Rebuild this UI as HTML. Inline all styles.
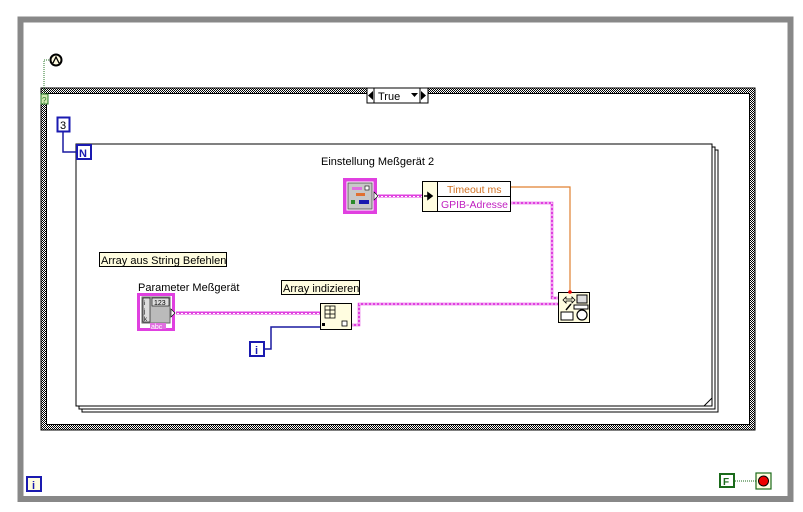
<!DOCTYPE html>
<html><head><meta charset="utf-8"><style>
html,body{margin:0;padding:0;background:#fff;}
svg{display:block;font-family:"Liberation Sans",sans-serif;}
</style></head><body>
<svg width="803" height="512" viewBox="0 0 803 512" xmlns="http://www.w3.org/2000/svg">
<defs>
<pattern id="chk" width="2" height="2" patternUnits="userSpaceOnUse">
<rect width="2" height="2" fill="#fff"/><rect width="1" height="1" fill="#000"/><rect x="1" y="1" width="1" height="1" fill="#000"/>
</pattern>
<pattern id="pinkdots" width="4" height="3" patternUnits="userSpaceOnUse">
<rect width="4" height="3" fill="#e040e0"/><rect x="1" y="1" width="2" height="1" fill="#fff"/>
</pattern>
</defs>
<!-- while loop -->
<path d="M20.5 499 V19.5 H790.5 V499 Z" fill="none" stroke="#888" stroke-width="6"/>
<!-- case structure -->
<rect x="41" y="88" width="714" height="342" fill="url(#chk)"/>
<rect x="41" y="88" width="714" height="342" fill="none" stroke="#000" stroke-width="1"/>
<rect x="46.5" y="93.5" width="703" height="331" fill="#fff" stroke="#000" stroke-width="1"/>
<!-- selector -->
<rect x="367" y="88" width="61" height="15" fill="#fff" stroke="#000"/>
<line x1="374" y1="88" x2="374" y2="103" stroke="#000"/>
<line x1="420" y1="88" x2="420" y2="103" stroke="#000"/>
<path d="M368 95.5 L373 91 L373 100 Z" fill="#000"/>
<path d="M421 91 L426 95.5 L421 100 Z" fill="#000"/>
<path d="M411 93 L418 93 L414.5 97 Z" fill="#000"/>
<text x="378" y="100" font-size="11">True</text>
<!-- selector terminal & error wire -->
<polyline points="44,94 44,60 50,60" fill="none" stroke="#2a7a2a" stroke-dasharray="1,1"/>
<rect x="41" y="94" width="7" height="10" fill="#cfe8b0" stroke="#2a7a2a"/>
<text x="42" y="103" font-size="8" fill="#2a7a2a">?</text>
<circle cx="56" cy="60" r="5.5" fill="#fffbe0" stroke="#000" stroke-width="2"/>
<path d="M53 63 L56 57 L59 63" fill="none" stroke="#000" stroke-width="1.3"/>
<!-- for loop -->
<rect x="82" y="150" width="636" height="262" fill="#fff" stroke="#000"/>
<rect x="79" y="147" width="636" height="262" fill="#fff" stroke="#000"/>
<rect x="76" y="144" width="636" height="262" fill="#fff" stroke="#000"/>
<path d="M704 406 L712 398" stroke="#000" fill="none"/>
<!-- N and 3 -->
<polyline points="63,132 63,152 76,152" fill="none" stroke="#1a1aa0" stroke-width="1.5"/>
<rect x="57.5" y="117.5" width="12" height="14" fill="#fff" stroke="#1a1ab0" stroke-width="2"/>
<text x="60" y="129" font-size="11">3</text>
<rect x="77" y="145" width="14" height="14" fill="#fff" stroke="#1a1ab0" stroke-width="2"/>
<text x="79" y="157" font-size="11" fill="#1a1ab0" font-weight="bold">N</text>
<!-- label -->
<text x="321" y="165" font-size="11">Einstellung Meßgerät 2</text>
<!-- cluster constant -->
<rect x="343" y="178" width="34" height="36" fill="#e040e0"/>
<rect x="346" y="181" width="28" height="30" fill="#fff" stroke="#e040e0"/>
<rect x="348" y="183" width="24" height="26" fill="#c8c8c8" stroke="#666"/>
<rect x="352" y="187" width="10" height="3" fill="#e070e0"/>
<rect x="365" y="186" width="4" height="4" fill="#fff" stroke="#000" stroke-width="0.6"/>
<rect x="356" y="193" width="9" height="3" fill="#e07030"/>
<rect x="351" y="200" width="4" height="4" fill="#2a8a2a"/>
<rect x="359" y="200" width="10" height="4" fill="#1a1ab0"/>
<path d="M374 192 L378 196 L374 200 Z" fill="#fff" stroke="#000" stroke-width="0.6"/>
<!-- unbundle -->
<line x1="378" y1="196" x2="422" y2="196" stroke="url(#pinkdots)" stroke-width="3"/>
<rect x="422.5" y="181.5" width="88" height="30" fill="#fffde0" stroke="#000"/>
<line x1="437.5" y1="181" x2="437.5" y2="212" stroke="#000"/>
<line x1="437" y1="196.5" x2="511" y2="196.5" stroke="#000"/>
<rect x="438" y="182" width="72" height="14" fill="#fff"/>
<rect x="438" y="197" width="72" height="14" fill="#fff"/>
<path d="M424 196 H431 M428 193 L432 196 L428 199 Z" stroke="#000" stroke-width="1.6" fill="#000"/>
<text x="447" y="193" font-size="10.5" fill="#d07020">Timeout ms</text>
<text x="441" y="208" font-size="10.5" fill="#c020c0" textLength="67" lengthAdjust="spacingAndGlyphs">GPIB-Adresse</text>
<polyline points="511,187 570,187 570,292" fill="none" stroke="#e08030" stroke-width="1.2"/>
<polyline points="511,203 552,203 552,298 558,298" fill="none" stroke="#e040e0" stroke-width="2.5"/>
<polyline points="511,203 552,203 552,298 558,298" fill="none" stroke="#fff" stroke-width="1" stroke-dasharray="2,2"/>
<!-- VISA node -->
<rect x="558.5" y="292.5" width="31" height="30" fill="#fffde0" stroke="#000"/>
<path d="M563 300 L566 297 L566 299 L572 299 L572 297 L575 300 L572 303 L572 301 L566 301 L566 303 Z" fill="none" stroke="#000" stroke-width="0.8"/>
<rect x="577" y="295" width="10" height="8" fill="#ddd" stroke="#000"/>
<rect x="574" y="305" width="14" height="4" fill="#fff" stroke="#000"/>
<rect x="561" y="312" width="12" height="8" fill="#fff" stroke="#000"/>
<circle cx="582" cy="315" r="5" fill="#fff" stroke="#000" stroke-width="1.2"/>
<path d="M566 310 L571 304" stroke="#000" stroke-width="1.4"/>
<circle cx="570" cy="292" r="1.8" fill="#e00"/>
<!-- array labels -->
<rect x="99.5" y="252.5" width="127" height="14" fill="#fffde0" stroke="#000"/>
<text x="101" y="264" font-size="11">Array aus String Befehlen</text>
<text x="138" y="291" font-size="11">Parameter Meßgerät</text>
<rect x="281.5" y="280.5" width="78" height="14" fill="#fffde0" stroke="#000"/>
<text x="283" y="292" font-size="11">Array indizieren</text>
<!-- parameter array -->
<rect x="137" y="293" width="38" height="38" fill="#e040e0"/>
<rect x="140" y="296" width="32" height="32" fill="#fff"/>
<rect x="142" y="297" width="28" height="26" fill="#bbb" stroke="#666"/>
<rect x="143" y="298" width="7" height="24" fill="#ddd" stroke="#000" stroke-width="0.6"/>
<text x="144" y="305" font-size="6">i</text><text x="144" y="313" font-size="6">j</text><text x="144" y="321" font-size="6">k</text>
<rect x="152" y="298" width="17" height="8" fill="#ddd" stroke="#000" stroke-width="0.6"/>
<text x="154" y="305" font-size="7">123</text>
<rect x="150" y="323" width="16" height="6" fill="#e070e0"/>
<text x="151" y="329" font-size="7" fill="#fff">abc</text>
<path d="M171 309 L175 313 L171 317 Z" fill="#fff" stroke="#000" stroke-width="0.6"/>
<line x1="176" y1="313" x2="320" y2="313" stroke="url(#pinkdots)" stroke-width="3"/>
<!-- index array -->
<rect x="320.5" y="303.5" width="31" height="26" fill="#fffde0" stroke="#000"/>
<rect x="325" y="306" width="10" height="12" fill="none" stroke="#000" stroke-width="0.8"/>
<line x1="325" y1="310" x2="335" y2="310" stroke="#000" stroke-width="0.8"/><line x1="325" y1="314" x2="335" y2="314" stroke="#000" stroke-width="0.8"/><line x1="330" y1="306" x2="330" y2="318" stroke="#000" stroke-width="0.8"/>
<rect x="322" y="323" width="3" height="3" fill="#000"/>
<rect x="342" y="321" width="5" height="5" fill="#fff" stroke="#000" stroke-width="0.8"/>
<polyline points="352,325 359,325 359,304 558,304" fill="none" stroke="#e040e0" stroke-width="2.5"/>
<polyline points="352,325 359,325 359,304 558,304" fill="none" stroke="#fff" stroke-width="1" stroke-dasharray="2,2"/>
<!-- i terminal -->
<polyline points="265,349 271,349 271,327 320,327" fill="none" stroke="#1a1aa0" stroke-width="1.5"/>
<rect x="250" y="342" width="14" height="14" fill="#fff" stroke="#1a1ab0" stroke-width="2"/>
<text x="255" y="354" font-size="11" font-weight="bold" fill="#1a1ab0">i</text>
<!-- iteration terminal -->
<rect x="27" y="477" width="14" height="14" fill="#fffde0" stroke="#1a1ab0" stroke-width="2"/>
<text x="32" y="489" font-size="11" font-weight="bold" fill="#1a1ab0">i</text>
<!-- stop -->
<rect x="720" y="474" width="14" height="13" fill="#fff" stroke="#1a6a1a" stroke-width="2"/>
<text x="723" y="485" font-size="10" font-weight="bold" fill="#1a6a1a">F</text>
<line x1="735" y1="481" x2="756" y2="481" stroke="#1a6a1a" stroke-dasharray="1,1"/>
<rect x="756" y="473" width="15" height="16" fill="#fffde0" stroke="#1a6a1a" stroke-width="1.2"/>
<circle cx="763.5" cy="481" r="5" fill="#e00" stroke="#000"/>
</svg>
</body></html>
